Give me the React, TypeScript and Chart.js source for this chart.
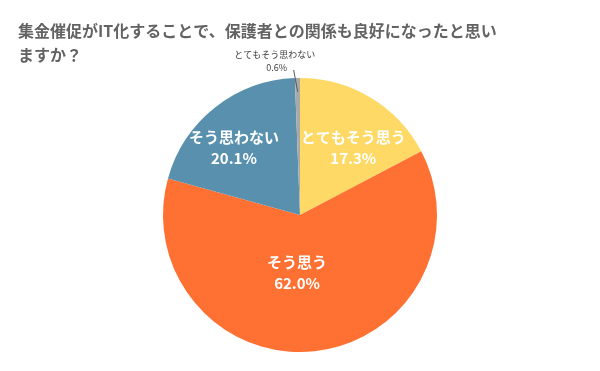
import React, { useEffect, useRef } from "react";
import { Chart, registerables } from "chart.js";

Chart.register(...registerables);

const categories = ["とてもそう思う", "そう思う", "そう思わない", "とてもそう思わない"];
const values = [17.3, 62.0, 20.1, 0.6];
const colors = ["#FFD966", "#FF7033", "#5990AE", "#A9A9A9"];
const titleLines = ["集金催促がIT化することで、保護者との関係も良好になったと思い", "ますか？"];

// label placement style per slice: angle offset (deg) from mid-angle, radial fraction
const labelStyle = [
  { dAng: 7, k: 0.63, inside: true },
  { dAng: 9, k: 0.42, inside: true },
  { dAng: -6, k: 0.69, inside: true },
  { dAng: 0, k: 1, inside: false },
];

const FONT = "'Noto Sans CJK JP', 'Noto Sans', sans-serif";

const labelPlugin = {
  id: "sliceLabels",
  afterDatasetsDraw(chart: any) {
    const ctx = chart.ctx;
    const meta = chart.getDatasetMeta(0);
    ctx.save();
    // title
    ctx.fillStyle = "#636363";
    ctx.font = `bold 16px ${FONT}`;
    ctx.textAlign = "left";
    ctx.textBaseline = "middle";
    titleLines.forEach((t, i) => ctx.fillText(t, 18, 31 + i * 24));

    meta.data.forEach((arc: any, i: number) => {
      const p = arc.getProps(["x", "y", "startAngle", "endAngle", "outerRadius"], true);
      const mid = (p.startAngle + p.endAngle) / 2;
      const st = labelStyle[i];
      const txt = values[i].toFixed(1) + "%";
      if (st.inside) {
        const a = mid + (st.dAng * Math.PI) / 180;
        const r = p.outerRadius * st.k;
        const x = p.x + Math.cos(a) * r;
        const y = p.y + Math.sin(a) * r;
        ctx.fillStyle = "#FFFFFF";
        ctx.font = `bold 15px ${FONT}`;
        ctx.textAlign = "center";
        ctx.textBaseline = "middle";
        ctx.fillText(categories[i], x, y - 10);
        ctx.fillText(txt, x, y + 11);
      } else {
        const ex = p.x + Math.cos(mid) * p.outerRadius * 0.9;
        const ey = p.y + Math.sin(mid) * p.outerRadius * 0.9;
        const sx = ex - 4;
        const sy = p.y - p.outerRadius - 8;
        ctx.strokeStyle = "#595959";
        ctx.lineWidth = 1;
        ctx.beginPath();
        ctx.moveTo(sx, sy);
        ctx.lineTo(ex, ey);
        ctx.stroke();
        ctx.fillStyle = "#404040";
        ctx.font = `9px ${FONT}`;
        ctx.textAlign = "center";
        ctx.textBaseline = "middle";
        ctx.fillText(categories[i], sx - 19, sy - 15);
        ctx.fillText(txt, sx - 17, sy - 2);
      }
    });
    ctx.restore();
  },
};

export default function App() {
  const ref = useRef<HTMLCanvasElement>(null);
  useEffect(() => {
    document.body.style.margin = "0";
    const chart = new Chart(ref.current!, {
      type: "pie",
      data: {
        labels: categories,
        datasets: [
          {
            data: values,
            backgroundColor: colors,
            borderWidth: 0,
          },
        ],
      },
      options: {
        animation: false,
        responsive: false,
        maintainAspectRatio: false,
        layout: { padding: { top: 78, bottom: 19, left: 0, right: 0 } },
        plugins: {
          legend: { display: false },
          tooltip: { enabled: false },
          title: { display: false },
        },
      },
      plugins: [labelPlugin],
    });
    return () => chart.destroy();
  }, []);
  return (
    <div style={{ width: 600, height: 371, background: "#fff" }}>
      <canvas ref={ref} width={600} height={371} style={{ display: "block" }} />
    </div>
  );
}
